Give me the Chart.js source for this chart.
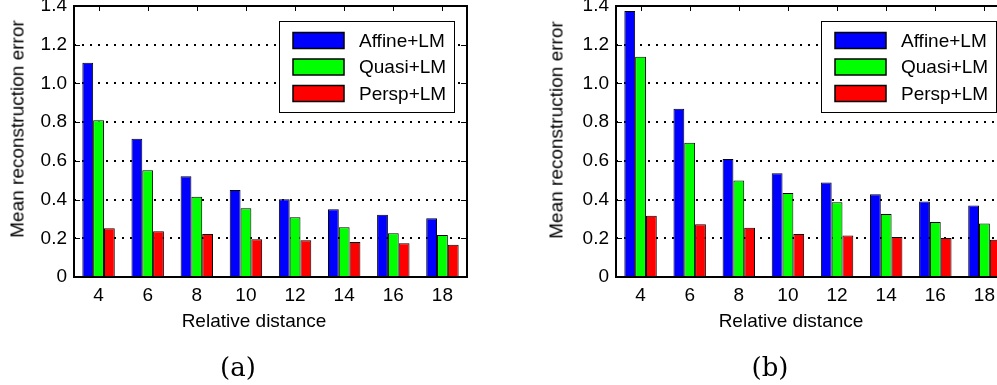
<!DOCTYPE html>
<html>
<head>
<meta charset="utf-8">
<script src="https://cdn.jsdelivr.net/npm/chart.js@4/dist/chart.umd.min.js"></script>
<style>
  html, body { margin: 0; padding: 0; background: #fff; overflow: hidden; }
  #page { position: relative; width: 997px; height: 385px; overflow: hidden; }
  canvas { position: absolute; top: 0; }
  .lbl { position: absolute; font: 19px "Liberation Sans", Arial, sans-serif; color: #000;
         white-space: nowrap; line-height: 1; transform: translate(-50%, -50%); }
  .ylbl { transform: translate(-50%, -50%) rotate(-90deg); }
  .cap { position: absolute; font: 26px "DejaVu Serif", serif; color: #000;
         line-height: 1; transform: translate(-50%, -50%); }
</style>
</head>
<body>
<div id="page">
  <canvas id="chartA" width="497" height="310" style="left:0px"></canvas>
  <canvas id="chartB" width="497" height="310" style="left:542px"></canvas>
  <div class="lbl ylbl" style="left:17px; top:129px">Mean reconstruction error</div>
  <div class="lbl" style="left:254px; top:320px">Relative distance</div>
  <div class="cap" style="left:238px; top:367px">(a)</div>
  <div class="lbl ylbl" style="left:556px; top:130px">Mean reconstruction error</div>
  <div class="lbl" style="left:791px; top:320px">Relative distance</div>
  <div class="cap" style="left:770px; top:367px">(b)</div>
</div>
<script>
// ---- data ----
const distances   = ['4', '6', '8', '10', '12', '14', '16', '18'];
const yTickLabels = ['0', '0.2', '0.4', '0.6', '0.8', '1.0', '1.2', '1.4'];
const seriesNames = ['Affine+LM', 'Quasi+LM', 'Persp+LM'];

// (a)
const affineA = [1.107, 0.714, 0.521, 0.450, 0.402, 0.350, 0.321, 0.303];
const quasiA  = [0.810, 0.552, 0.414, 0.355, 0.309, 0.257, 0.226, 0.217];
const perspA  = [0.252, 0.236, 0.222, 0.195, 0.190, 0.181, 0.174, 0.167];
// (b)
const affineB = [1.374, 0.869, 0.610, 0.536, 0.488, 0.428, 0.390, 0.369];
const quasiB  = [1.138, 0.693, 0.498, 0.434, 0.386, 0.326, 0.284, 0.276];
const perspB  = [0.317, 0.272, 0.255, 0.222, 0.214, 0.207, 0.202, 0.193];

const barColors = ['#0000ff', '#00ff00', '#ff0000'];
const FONT = '"Liberation Sans", Arial, sans-serif';

// Matlab-style axes box, inward ticks and boxed legend
const matlabAxes = {
  id: 'matlabAxes',
  afterDatasetsDraw(chart) {
    const { ctx, chartArea: a, scales } = chart;
    ctx.save();

    // legend
    const lx = a.left + 205, ly = a.top + 15, lw = 175, lh = 91;
    ctx.fillStyle = '#fff';
    ctx.fillRect(lx, ly, lw, lh);
    ctx.strokeStyle = '#000';
    ctx.lineWidth = 1;
    ctx.strokeRect(lx + 0.5, ly + 0.5, lw, lh);
    ctx.font = '19px ' + FONT;
    ctx.textBaseline = 'middle';
    chart.data.datasets.forEach((ds, i) => {
      const cy = ly + 19.5 + i * 26.5;
      ctx.fillStyle = ds.backgroundColor;
      ctx.fillRect(lx + 14, cy - 8, 51, 16);
      ctx.lineWidth = 1.5;
      ctx.strokeRect(lx + 14, cy - 8, 51, 16);
      ctx.fillStyle = '#000';
      ctx.fillText(ds.label, lx + 80, cy + 1);
    });

    // ticks pointing inward
    ctx.lineWidth = 1;
    ctx.beginPath();
    scales.x.ticks.forEach((t, i) => {
      const px = Math.round(scales.x.getPixelForTick(i)) + 0.5;
      ctx.moveTo(px, a.top); ctx.lineTo(px, a.top + 5);
    });
    scales.y.ticks.forEach((t, i) => {
      const py = Math.round(scales.y.getPixelForTick(i)) + 0.5;
      ctx.moveTo(a.left, py); ctx.lineTo(a.left + 6, py);
      ctx.moveTo(a.right, py); ctx.lineTo(a.right - 6, py);
    });
    ctx.stroke();

    // box
    ctx.lineWidth = 2;
    ctx.strokeRect(a.left, a.top, a.right - a.left, a.bottom - a.top);
    ctx.restore();
  }
};

function makeChart(id, affine, quasi, persp) {
  const values = [affine, quasi, persp];
  return new Chart(document.getElementById(id), {
    type: 'bar',
    data: {
      labels: distances,
      datasets: values.map((v, i) => ({
        label: seriesNames[i],
        data: v,
        backgroundColor: barColors[i],
        borderColor: '#000',
        borderWidth: 1,
        barPercentage: 1.0,
        categoryPercentage: 0.66
      }))
    },
    options: {
      responsive: false,
      animation: false,
      layout: { padding: { top: 6, right: 30, left: 0, bottom: 0 } },
      plugins: { legend: { display: false }, tooltip: { enabled: false } },
      scales: {
        x: {
          grid: { display: false, drawTicks: false },
          border: { display: false },
          ticks: { color: '#000', font: { family: FONT, size: 19 }, padding: 7, maxRotation: 0 },
          afterFit: s => { s.height = 33; s.paddingLeft = 0; s.paddingRight = 0; }
        },
        y: {
          min: 0, max: 1.4,
          grid: {
            drawTicks: false,
            lineWidth: 2,
            color: c => (c.tick && c.tick.value > 0.01 && c.tick.value < 1.39) ? '#000' : 'rgba(0,0,0,0)'
          },
          border: { display: false, dash: [2, 6] },
          ticks: {
            stepSize: 0.2,
            color: '#000',
            font: { family: FONT, size: 19 },
            padding: 7,
            callback: (v, i) => yTickLabels[i]
          },
          afterFit: s => { s.width = 74; s.paddingTop = 0; s.paddingBottom = 0; }
        }
      }
    },
    plugins: [matlabAxes]
  });
}

makeChart('chartA', affineA, quasiA, perspA);
makeChart('chartB', affineB, quasiB, perspB);
</script>
</body>
</html>
